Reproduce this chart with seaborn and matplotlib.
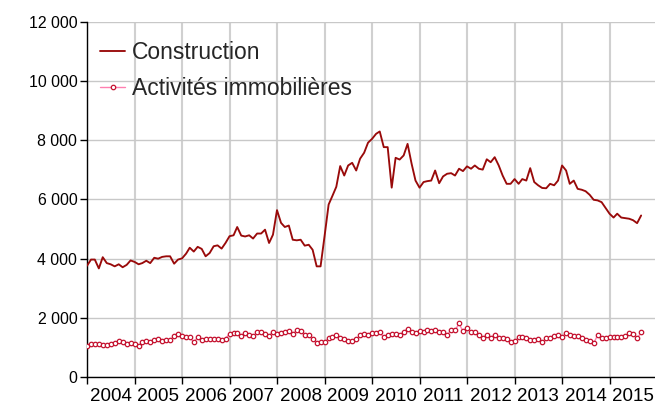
import numpy as np
import pandas as pd
import matplotlib
matplotlib.use("Agg")
import matplotlib.pyplot as plt
import matplotlib.ticker as mticker
import seaborn as sns

start_month = "2004-01-01"

construction = [
    3760, 3970, 3970, 3670, 4050, 3850, 3810, 3740, 3810, 3710, 3790, 3940,
    3890, 3810, 3850, 3930, 3850, 4030, 4000, 4060, 4080, 4080, 3830, 3970,
    4010, 4170, 4370, 4240, 4400, 4330, 4080, 4190, 4420, 4450, 4340, 4530,
    4760, 4790, 5070, 4780, 4750, 4790, 4680, 4850, 4850, 4980, 4530, 4810,
    5640, 5210, 5070, 5120, 4640, 4620, 4640, 4440, 4470, 4300, 3740, 3740,
    4770, 5830, 6110, 6430, 7130, 6810, 7150, 7240, 6980, 7380, 7580, 7920,
    8050, 8220, 8300, 7770, 7770, 6400, 7410, 7350, 7490, 7880, 7210, 6640,
    6400, 6590, 6620, 6640, 6980, 6550, 6780, 6870, 6890, 6810, 7040, 6960,
    7120, 7040, 7150, 7040, 7010, 7360, 7260, 7430, 7150, 6810, 6530, 6530,
    6690, 6530, 6690, 6640, 7060, 6590, 6480, 6390, 6380, 6530, 6480, 6640,
    7150, 6980, 6530, 6640, 6360, 6330, 6280, 6160, 5990, 5970, 5910, 5720,
    5520, 5390, 5520, 5390, 5370, 5350, 5300, 5200, 5460,
]

immobilier = [
    1056, 1112, 1100, 1100, 1078, 1078, 1112, 1157, 1213, 1180, 1123, 1146,
    1100, 1056, 1168, 1225, 1168, 1236, 1270, 1202, 1247, 1247, 1382, 1438,
    1393, 1337, 1337, 1180, 1337, 1258, 1292, 1292, 1281, 1281, 1247, 1292,
    1460, 1483, 1483, 1371, 1494, 1427, 1371, 1505, 1505, 1450, 1393, 1528,
    1460, 1472, 1505, 1539, 1450, 1573, 1550, 1404, 1404, 1281, 1157, 1191,
    1191, 1303, 1348, 1416, 1303, 1281, 1225, 1202, 1270, 1404, 1450, 1404,
    1494, 1494, 1505, 1348, 1416, 1460, 1460, 1416, 1528, 1629, 1528, 1494,
    1562, 1517, 1595, 1550, 1595, 1528, 1517, 1427, 1573, 1573, 1809, 1539,
    1640, 1528, 1517, 1416, 1326, 1416, 1326, 1416, 1326, 1314, 1292, 1191,
    1202, 1337, 1359, 1303, 1247, 1258, 1281, 1180, 1303, 1303, 1382, 1404,
    1348, 1483, 1416, 1393, 1371, 1326, 1236, 1202, 1135, 1416, 1303, 1303,
    1359, 1337, 1348, 1348, 1382, 1472, 1450, 1303, 1505,
]

years = list(range(2004, 2016))
y_ticks = [0, 2000, 4000, 6000, 8000, 10000, 12000]
labels = ["Construction", "Activités immobilières"]

dates = pd.date_range(start_month, periods=len(construction), freq="MS")
df = pd.DataFrame({"date": dates, "construction": construction, "immobilier": immobilier})

sns.set_theme(style="white")
plt.rcParams["font.family"] = ["Liberation Sans", "DejaVu Sans"]

fig = plt.figure(figsize=(6.55, 4.07), dpi=100)
ax = fig.add_axes([87 / 655, 30 / 407, 570 / 655, 355 / 407])

major = [pd.Timestamp(f"{y}-01-01") for y in years]
minor = [pd.Timestamp(f"{y}-07-01") for y in years]

sns.lineplot(data=df, x="date", y="construction", ax=ax, color="#990a0a",
             linewidth=1.35, label=labels[0], zorder=3)
sns.lineplot(data=df, x="date", y="immobilier", ax=ax, color="#ff7fb0",
             linewidth=1.0, marker="o", markersize=3.2, markerfacecolor="white",
             markeredgecolor="#c4122f", markeredgewidth=0.9, label=labels[1], zorder=3)

ax.set_ylim(y_ticks[0], y_ticks[-1])
ax.set_xlim(major[0], pd.Timestamp(f"{years[-1] + 1}-01-01"))

ax.set_yticks(y_ticks)
ax.yaxis.set_major_formatter(mticker.FuncFormatter(lambda v, p: f"{int(v):,}".replace(",", " ")))

ax.set_xticks(major)
ax.set_xticklabels([""] * len(major))
ax.set_xticks(minor, minor=True)
ax.set_xticklabels([str(y) for y in years], minor=True)

ax.tick_params(axis="x", which="major", direction="out", length=5, width=1, color="black",
               bottom=True)
ax.tick_params(axis="x", which="minor", length=0, pad=8, labelsize=13.5, labelcolor="black")
ax.tick_params(axis="y", which="major", direction="out", length=5, width=1, color="black",
               labelsize=11.4, labelcolor="black", pad=2, left=True)

ax.yaxis.grid(True, which="major", color="#c8c8c8", linewidth=1.0)
ax.xaxis.grid(True, which="major", color="#d0d0d0", linewidth=1.5)
ax.set_axisbelow(True)

for s in ["top", "right"]:
    ax.spines[s].set_visible(False)
for s in ["left", "bottom"]:
    ax.spines[s].set_color("black")
    ax.spines[s].set_linewidth(1.0)

ax.set_xlabel("")
ax.set_ylabel("")

leg = ax.legend(loc="upper left", bbox_to_anchor=(100 / 655, 1 - 41 / 407),
                bbox_transform=fig.transFigure, frameon=False, fontsize=16.5,
                handlelength=1.1, handletextpad=0.3, labelspacing=0.58,
                borderpad=0, borderaxespad=0)

fig.savefig("out.png", dpi=100)
